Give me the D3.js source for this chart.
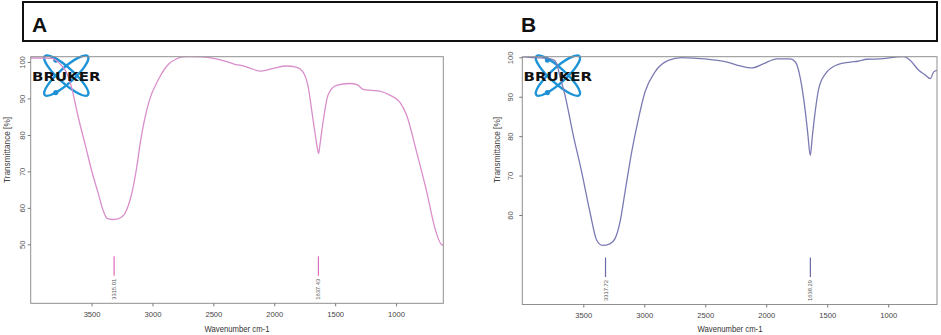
<!DOCTYPE html>
<html>
<head>
<meta charset="utf-8">
<script src="https://cdn.jsdelivr.net/npm/d3@7"></script>
<style>
  html, body { margin: 0; padding: 0; background: #fff; }
  svg { display: block; font-family: "Liberation Sans", Arial, sans-serif; }
</style>
</head>
<body>
<svg id="chart" width="941" height="335"></svg>
<script>
// ---------------- data ----------------
const panelLabels = ["A", "B"];

const wavenumberA = [4000, 3900, 3827, 3760, 3690, 3662, 3607, 3550, 3497, 3450, 3401, 3373, 3330, 3291, 3236, 3200, 3167, 3130, 3099, 3030, 2948, 2865, 2800, 2755, 2700, 2590, 2500, 2398, 2315, 2274, 2200, 2109, 2000, 1903, 1820, 1765, 1724, 1683, 1660, 1648, 1636, 1626, 1615, 1595, 1559, 1490, 1381, 1320, 1271, 1200, 1134, 1051, 969, 913, 831, 748, 680, 625, 612];
const transmittanceA = [101.1, 101.1, 101.0, 99.5, 95.9, 92.7, 84.5, 77.0, 69.9, 64.5, 58.9, 57.1, 56.8, 56.9, 58.0, 60.5, 64.4, 71.0, 78.1, 89.0, 95.4, 99.5, 100.9, 101.4, 101.5, 101.4, 101.0, 100.2, 99.3, 99.1, 98.3, 97.5, 98.3, 98.9, 98.6, 97.3, 93.6, 84.5, 79.3, 76.8, 74.9, 77.0, 79.8, 84.5, 90.9, 93.6, 94.1, 93.8, 92.5, 92.2, 92.0, 90.9, 89.0, 85.4, 75.3, 64.4, 54.3, 49.9, 49.8];

const wavenumberB = [4000, 3900, 3800, 3740, 3720, 3690, 3650, 3582, 3513, 3445, 3390, 3344, 3281, 3240, 3199, 3158, 3103, 3048, 2994, 2912, 2803, 2693, 2600, 2502, 2400, 2321, 2212, 2116, 2020, 1911, 1803, 1761, 1720, 1679, 1659, 1639, 1622, 1606, 1570, 1515, 1419, 1310, 1250, 1174, 1063, 980, 927, 873, 818, 750, 700, 655, 627, 600];
const transmittanceB = [100.1, 99.9, 99.8, 99.3, 98.5, 95.0, 90.4, 80.2, 70.9, 60.7, 53.6, 52.3, 52.7, 54.0, 58.2, 65.8, 76.0, 84.4, 91.2, 96.3, 99.2, 99.9, 99.8, 99.6, 99.2, 98.8, 97.8, 97.3, 98.4, 99.6, 99.6, 98.8, 94.6, 86.1, 80.5, 75.1, 80.0, 84.4, 92.0, 95.8, 98.1, 98.8, 99.0, 99.5, 99.6, 99.9, 100.1, 100.2, 99.2, 96.7, 95.6, 94.6, 96.3, 96.7];

const xTickValues = [3500, 3000, 2500, 2000, 1500, 1000];
const yTicksA = [100, 90, 80, 70, 60, 50];
const yTicksB = [100, 90, 80, 70, 60];
const peaksA = [3315.01, 1637.43];
const peaksB = [3317.72, 1638.29];
const peakLabelsA = ["3315.01", "1637.43"];
const peakLabelsB = ["3317.72", "1638.29"];
const xTitle = "Wavenumber cm-1";
const yTitle = "Transmittance [%]";
const logoText = "BRUKER";

// ---------------- drawing ----------------
const svg = d3.select("#chart");

// header box spanning both panels
svg.append("rect")
  .attr("x", 23).attr("y", 2).attr("width", 914).attr("height", 39)
  .attr("fill", "none").attr("stroke", "#111").attr("stroke-width", 2);

const panels = [
  {
    label: panelLabels[0], labelX: 32,
    wn: wavenumberA, tr: transmittanceA,
    yTicks: yTicksA, peaks: peaksA, peakLabels: peakLabelsA,
    left: 30.7, right: 443.3, top: 56.7, bottom: 303.3,
    xDomain: [4000, 612],
    yRef: [50, 100], yRefPx: [244.3, 62],
    color: "#d98ecb", peakColor: "#df6cbc",
    yLabelX: 24.5, yTitleX: 10, xTitleX: 237
  },
  {
    label: panelLabels[1], labelX: 521,
    wn: wavenumberB, tr: transmittanceB,
    yTicks: yTicksB, peaks: peaksB, peakLabels: peakLabelsB,
    left: 522.3, right: 937, top: 56.7, bottom: 304.5,
    xDomain: [4000, 600],
    yRef: [60, 100], yRefPx: [215, 57.3],
    color: "#7b7bb3", peakColor: "#6a6aa6",
    yLabelX: 513, yTitleX: 500, xTitleX: 730
  }
];

panels.forEach((p, i) => {
  // panel letter
  svg.append("text")
    .attr("x", p.labelX).attr("y", 32)
    .attr("font-size", 21).attr("font-weight", "bold").attr("fill", "#111")
    .text(p.label);

  const x = d3.scaleLinear().domain(p.xDomain).range([p.left, p.right]);
  const y = d3.scaleLinear().domain(p.yRef).range(p.yRefPx);

  const g = svg.append("g");

  // clip
  const clipId = "clip" + i;
  svg.append("clipPath").attr("id", clipId)
    .append("rect")
    .attr("x", p.left).attr("y", p.top)
    .attr("width", p.right - p.left).attr("height", p.bottom - p.top);

  // Bruker logo (ellipses)
  const lx = p.left + 1.3, cx = lx + 34.3, cy = 75.6;
  const logo = g.append("g");
  [42, -42].forEach(a => {
    logo.append("ellipse")
      .attr("cx", 0).attr("cy", 0).attr("rx", 29).attr("ry", 7.5)
      .attr("transform", `translate(${cx},${cy}) rotate(${a})`)
      .attr("fill", "none").attr("stroke", "#1d93d8").attr("stroke-width", 2.4);
  });
  logo.append("circle").attr("cx", cx - 10.5).attr("cy", cy - 15.5).attr("r", 2.6).attr("fill", "#1f8fd6");
  logo.append("circle").attr("cx", cx - 10.5).attr("cy", cy + 17).attr("r", 2.6).attr("fill", "#1f8fd6");

  // spectrum
  const data = p.wn.map((w, k) => ({ w, t: p.tr[k] }));
  const line = d3.line().x(d => x(d.w)).y(d => y(d.t)).curve(d3.curveMonotoneX);
  g.append("path")
    .datum(data)
    .attr("clip-path", `url(#${clipId})`)
    .attr("d", line)
    .attr("fill", "none").attr("stroke", p.color).attr("stroke-width", 1.3);

  // logo text on top
  g.append("text")
    .attr("x", lx).attr("y", 81)
    .attr("font-family", "'DejaVu Sans', sans-serif")
    .attr("font-size", 12.5).attr("font-weight", "bold").attr("fill", "#111")
    .attr("textLength", 68.5).attr("lengthAdjust", "spacingAndGlyphs")
    .text(logoText);

  // plot frame
  g.append("rect")
    .attr("x", p.left).attr("y", p.top)
    .attr("width", p.right - p.left).attr("height", p.bottom - p.top)
    .attr("fill", "none").attr("stroke", "#8f8f8f").attr("stroke-width", 1);

  // x axis
  const xAxis = d3.axisBottom(x).tickValues(xTickValues).tickSize(3).tickPadding(5)
    .tickFormat(d3.format("d"));
  const xg = g.append("g").attr("transform", `translate(0,${p.bottom})`).call(xAxis);
  xg.select(".domain").remove();
  xg.selectAll(".tick line").attr("stroke", "#777");
  xg.selectAll(".tick text").attr("font-size", 7.6).attr("fill", "#444")
    .attr("font-family", "'Liberation Sans', Arial, sans-serif");

  // y axis
  const yAxis = d3.axisLeft(y).tickValues(p.yTicks).tickSize(3).tickFormat(d3.format("d"));
  const yg = g.append("g").attr("transform", `translate(${p.left},0)`).call(yAxis);
  yg.select(".domain").remove();
  yg.selectAll(".tick line").attr("stroke", "#777");
  yg.selectAll(".tick text")
    .attr("x", null).attr("dy", null)
    .attr("text-anchor", "middle")
    .attr("transform", `translate(${p.yLabelX - p.left},0) rotate(-90)`)
    .attr("font-size", 7.6).attr("fill", "#555")
    .attr("font-family", "'Liberation Sans', Arial, sans-serif");

  // axis titles
  g.append("text")
    .attr("x", p.xTitleX).attr("y", 331.5)
    .attr("text-anchor", "middle")
    .attr("font-size", 9.3).attr("fill", "#333")
    .attr("textLength", 65).attr("lengthAdjust", "spacingAndGlyphs")
    .text(xTitle);
  g.append("text")
    .attr("transform", `translate(${p.yTitleX},150) rotate(-90)`)
    .attr("text-anchor", "middle")
    .attr("font-size", 8.6).attr("fill", "#444")
    .attr("textLength", 66).attr("lengthAdjust", "spacingAndGlyphs")
    .text(yTitle);

  // peak markers
  p.peaks.forEach((pk, k) => {
    const px = x(pk);
    g.append("line")
      .attr("x1", px).attr("x2", px)
      .attr("y1", p.bottom - 47).attr("y2", p.bottom - 27.5)
      .attr("stroke", p.peakColor).attr("stroke-width", 1.2);
    g.append("text")
      .attr("transform", `translate(${px + 2},${p.bottom - 3.5}) rotate(-90)`)
      .attr("font-size", 5.8).attr("fill", "#555")
      .text(p.peakLabels[k]);
  });
});
</script>
</body>
</html>
